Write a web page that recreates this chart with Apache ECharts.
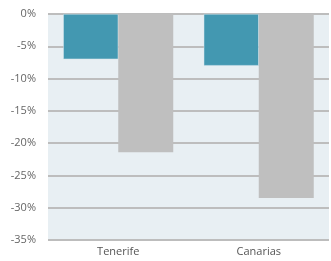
<!DOCTYPE html>
<html>
<head>
<meta charset="utf-8">
<script src="https://cdn.jsdelivr.net/npm/echarts@6/dist/echarts.min.js"></script>
<style>
  html, body { margin: 0; padding: 0; background: #fff; }
  #chart { width: 331px; height: 261px; }
</style>
</head>
<body>
<div id="chart"></div>
<script>
const categories = ['Tenerife', 'Canarias'];
const seriesA = [-7, -8];
const seriesB = [-21.4, -28.5];
const yTicks = [0, -5, -10, -15, -20, -25, -30, -35];

const chart = echarts.init(document.getElementById('chart'));
chart.setOption({
  animation: false,
  grid: {
    left: 48,
    right: 2,
    top: 14,
    bottom: 21,
    show: true,
    backgroundColor: '#e8eff3',
    borderWidth: 0
  },
  xAxis: {
    type: 'category',
    data: categories,
    position: 'bottom',
    axisLine: { show: false, onZero: false },
    axisTick: { show: false },
    axisLabel: {
      color: '#555',
      fontFamily: 'Open Sans',
      fontSize: 11,
      margin: 6
    }
  },
  yAxis: {
    type: 'value',
    min: yTicks[yTicks.length - 1],
    max: yTicks[0],
    interval: 5,
    axisLine: { show: false },
    axisTick: { show: false },
    splitLine: { lineStyle: { color: '#bdbdbd', width: 2 } },
    axisLabel: {
      color: '#666',
      fontFamily: 'Open Sans',
      fontSize: 11,
      margin: 12,
      formatter: (v) => v + '%'
    }
  },
  series: [
    {
      type: 'bar',
      data: seriesA,
      barWidth: 55,
      barGap: '0%',
      itemStyle: { color: '#4398b1', borderColor: '#d6e7ee', borderWidth: 0.5 }
    },
    {
      type: 'bar',
      data: seriesB,
      barWidth: 55,
      itemStyle: { color: '#bfbfbf' }
    }
  ]
});
</script>
</body>
</html>
